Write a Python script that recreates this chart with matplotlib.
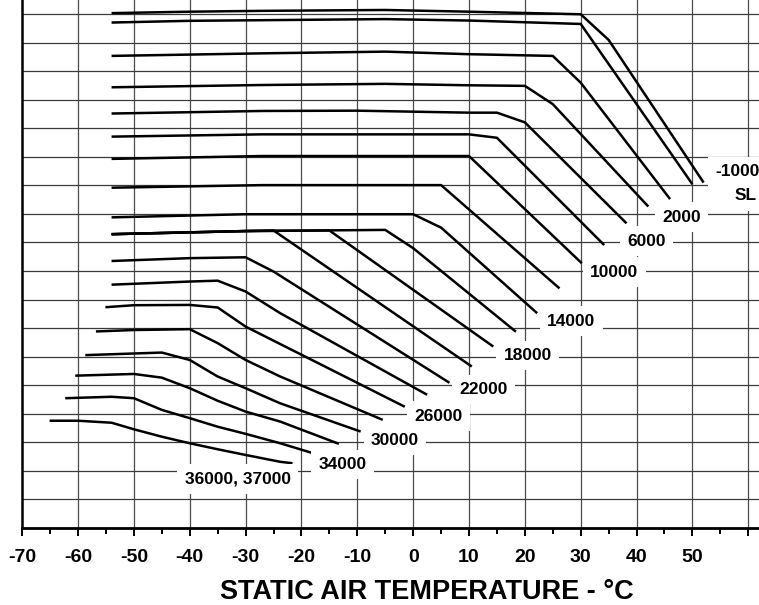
import matplotlib
matplotlib.use("Agg")
import matplotlib.pyplot as plt
from matplotlib.ticker import MultipleLocator

plt.rcParams['font.family'] = ['Liberation Sans', 'DejaVu Sans']
plt.rcParams['font.weight'] = 'bold'

# temperature (deg C) / chart value (grid divisions) for each altitude curve
t_m1000 = [-54, -40, -27, -5, 10, 30, 35, 52]
v_m1000 = [18.04, 18.09, 18.12, 18.15, 18.09, 18.00, 17.10, 12.10]
t_sl = [-54, -40, -5, 10, 30, 50]
v_sl = [17.71, 17.77, 17.83, 17.78, 17.66, 12.04]
t_2000 = [-54, -27, -5, 10, 25, 30, 46]
v_2000 = [16.54, 16.63, 16.69, 16.60, 16.54, 15.60, 11.52]
t_4000 = [-54, -27, -5, 10, 20, 25, 42.1]
v_4000 = [15.44, 15.52, 15.56, 15.51, 15.49, 14.85, 11.26]
t_6000 = [-54, -27, -10, 10, 15, 20, 38.2]
v_6000 = [14.52, 14.61, 14.62, 14.55, 14.55, 14.21, 10.67]
t_8000 = [-54, -27, 10, 15, 34.2]
v_8000 = [13.71, 13.79, 13.79, 13.67, 9.91]
t_10000 = [-54, -27, 10, 30.2]
v_10000 = [12.93, 13.03, 13.03, 9.27]
t_12000 = [-54, -27, 5, 26.2]
v_12000 = [11.92, 12.01, 12.01, 8.39]
t_14000 = [-54, -30, 0, 5, 22.2]
v_14000 = [10.88, 10.99, 10.99, 10.52, 7.52]
t_16000 = [-54, -30, -5, 0, 18.4]
v_16000 = [10.29, 10.40, 10.44, 9.80, 6.87]
t_18000 = [-54, -30, -15, 14.35]
v_18000 = [10.29, 10.40, 10.42, 6.35]
t_20000 = [-54, -30, -25, 10.5]
v_20000 = [10.29, 10.40, 10.42, 5.65]
t_22000 = [-54, -40, -30, -25, 6.5]
v_22000 = [9.35, 9.45, 9.48, 8.98, 5.08]
t_24000 = [-54, -40, -35, -30, -23.8, 2.5]
v_24000 = [8.52, 8.63, 8.66, 8.28, 7.52, 4.66]
t_26000 = [-55.1, -50, -40, -35, -30, -1.5]
v_26000 = [7.73, 7.80, 7.81, 7.72, 7.05, 4.24]
t_28000 = [-56.8, -50, -40, -35, -30, -23.8, -5.45]
v_28000 = [6.88, 6.93, 6.96, 6.47, 5.88, 5.30, 3.78]
t_30000 = [-58.7, -45, -40, -35, -30, -23.8, -9.4]
v_30000 = [6.05, 6.14, 5.88, 5.30, 4.89, 4.36, 3.37]
t_32000 = [-60.5, -50, -45, -40, -35, -30, -23.8, -13.3]
v_32000 = [5.33, 5.39, 5.26, 4.89, 4.45, 4.07, 3.72, 2.94]
t_34000 = [-62.3, -54, -50, -45, -40, -35, -30, -23.8, -17.9]
v_34000 = [4.54, 4.59, 4.54, 4.13, 3.84, 3.54, 3.29, 2.96, 2.61]
t_36000 = [-65.1, -60, -54, -50, -45, -40, -35, -30, -23.8, -21.6]
v_36000 = [3.75, 3.75, 3.68, 3.45, 3.19, 2.96, 2.75, 2.55, 2.31, 2.26]

curves = [
    (t_m1000, v_m1000), (t_sl, v_sl), (t_2000, v_2000), (t_4000, v_4000),
    (t_6000, v_6000), (t_8000, v_8000), (t_10000, v_10000), (t_12000, v_12000),
    (t_14000, v_14000), (t_16000, v_16000), (t_18000, v_18000), (t_20000, v_20000),
    (t_22000, v_22000), (t_24000, v_24000), (t_26000, v_26000), (t_28000, v_28000),
    (t_30000, v_30000), (t_32000, v_32000), (t_34000, v_34000), (t_36000, v_36000),
]

# curve labels and where they sit
label_text = ["-1000", "SL", "2000", "6000", "10000", "14000", "18000",
              "22000", "26000", "30000", "34000", "36000, 37000"]
label_t = [58.0, 59.6, 48.0, 41.8, 36.0, 28.3, 20.5, 12.6, 4.5, -3.25, -12.6, -31.45]
label_v = [12.48, 11.63, 10.89, 10.05, 8.96, 7.24, 6.04, 4.84, 3.91, 3.06, 2.22, 1.71]

x_ticks = list(range(-70, 61, 10))
x_tick_labels = [str(v) for v in range(-70, 51, 10)] + [""]

fig = plt.figure(figsize=(7.59, 6.05), dpi=100)
ax = fig.add_axes([22.2 / 759, 77.3 / 605, 1 - 22.2 / 759, 1 - 77.3 / 605])
ax.set_xlim(-70, 61.92)
ax.set_ylim(0, 18.5)

# grid
for gx in range(-60, 61, 10):
    ax.axvline(gx, color='#4d4d4d', lw=0.9, zorder=1)
for gy in range(1, 19):
    ax.axhline(gy, color='#3a3a3a', lw=0.9, zorder=1)

for t, v in curves:
    ax.plot(t, v, color='black', lw=1.8, solid_capstyle='butt', zorder=3)

for s, t, v in zip(label_text, label_t, label_v):
    ax.text(t, v, s, ha='center', va='center', fontsize=12.5, fontweight='bold',
            zorder=4, bbox=dict(boxstyle='square,pad=0.42', fc='white', ec='none'))

for side in ['top', 'right']:
    ax.spines[side].set_visible(False)
ax.spines['left'].set_linewidth(1.8)
ax.spines['bottom'].set_linewidth(2.0)

ax.set_xticks(x_ticks)
ax.set_xticklabels(x_tick_labels)
ax.xaxis.set_minor_locator(MultipleLocator(5))
ax.tick_params(axis='x', which='major', direction='out', length=5.5, width=1.4,
               pad=10, labelsize=14)
ax.tick_params(axis='x', which='minor', direction='out', length=4.5, width=1.4)
ax.set_yticks([])

fig.text(427 / 759, 1 - 592 / 605, "STATIC AIR TEMPERATURE - \u00b0C",
         ha='center', va='center', fontsize=19.5, fontweight='bold')

fig.savefig("out.png", dpi=100)
